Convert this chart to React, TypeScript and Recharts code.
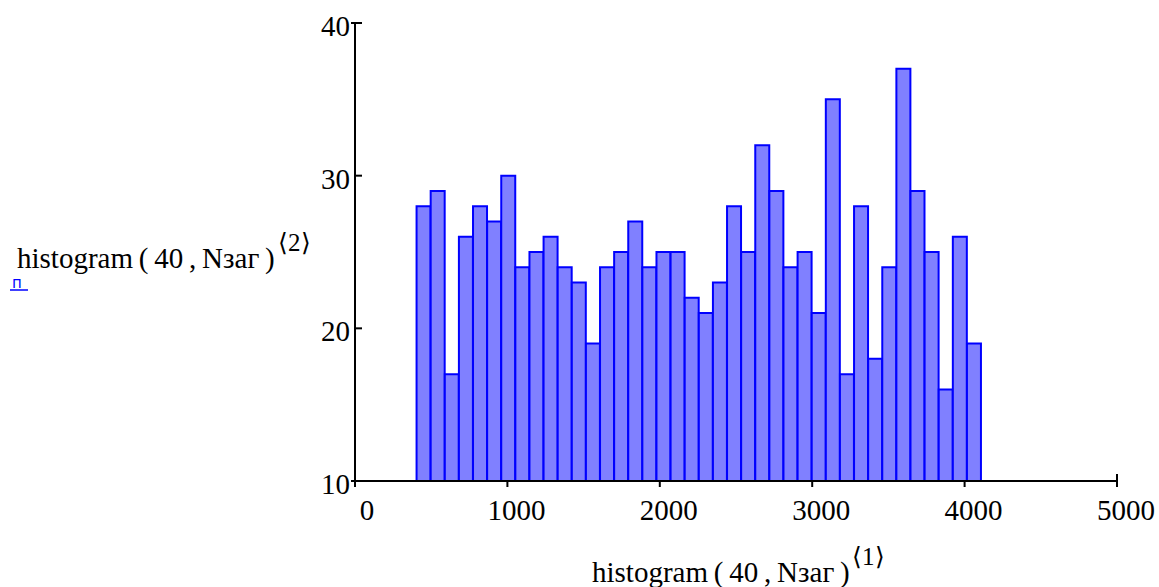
import React from 'react';
import { BarChart, Bar, XAxis, YAxis } from 'recharts';

// Bin midpoints of histogram(40, Nзаг) — column ⟨1⟩
const binCenters = [
  450.3, 542.9, 635.5, 728.1, 820.7, 913.3, 1005.9, 1098.5, 1191.1, 1283.7,
  1376.3, 1468.9, 1561.5, 1654.1, 1746.7, 1839.3, 1931.9, 2024.5, 2117.1, 2209.7,
  2302.3, 2394.9, 2487.5, 2580.1, 2672.7, 2765.3, 2857.9, 2950.5, 3043.1, 3135.7,
  3228.3, 3320.9, 3413.5, 3506.1, 3598.7, 3691.3, 3783.9, 3876.5, 3969.1, 4061.7,
];
// Counts — column ⟨2⟩
const counts = [
  28, 29, 17, 26, 28, 27, 30, 24, 25, 26,
  24, 23, 19, 24, 25, 27, 24, 25, 25, 22,
  21, 23, 28, 25, 32, 29, 24, 25, 21, 35,
  17, 28, 18, 24, 37, 29, 25, 16, 26, 19,
];
const xTicks = [0, 1000, 2000, 3000, 4000, 5000];
const yTicks = [10, 20, 30, 40];
const axisLabelMain = 'histogram\u2009(\u200940\u2009,\u2009Nзаг\u2009)';
const xLabelSup = '⟨1⟩';
const yLabelSup = '⟨2⟩';
const placeholder = 'п';

const data = binCenters.map((x, i) => ({ x, count: counts[i] }));

const FONT = '"Liberation Serif", "Times New Roman", serif';
const W = 1159;
const H = 587;
const Y_AXIS_W = 60;
const X_AXIS_H = 30;

const XTick = (props: any) => {
  const { x, y, payload } = props;
  const v = payload.value;
  const isEnd = v === 5000;
  const dx = v === 0 ? 12 : 9;
  return (
    <g>
      <line x1={x} x2={x} y1={isEnd ? y - 7 : y} y2={y + 6} stroke="#000" strokeWidth={2} />
      <text x={x + dx} y={y + 39} textAnchor="middle" fontFamily={FONT} fontSize={29} fill="#000">
        {v}
      </text>
    </g>
  );
};

const YTick = (props: any) => {
  const { x, y, payload } = props;
  const v = payload.value;
  const isEnd = v === 40 || v === 10;
  return (
    <g>
      <line x1={isEnd ? x - 4 : x} x2={x + 7} y1={y} y2={y} stroke="#000" strokeWidth={2} />
      <text x={x - 5} y={y + 13} textAnchor="end" fontFamily={FONT} fontSize={29} fill="#000">
        {v}
      </text>
    </g>
  );
};

export default function App() {
  return (
    <div style={{ position: 'absolute', left: 0, top: 0, width: W, height: H, background: '#fff' }}>
      <BarChart
        width={W}
        height={H}
        data={data}
        margin={{ top: 23, left: 355 - Y_AXIS_W, right: W - 1117, bottom: H - 481 - X_AXIS_H }}
        barCategoryGap={0}
        barGap={0}
      >
        <XAxis
          dataKey="x"
          type="number"
          domain={[0, 5000]}
          ticks={xTicks}
          interval={0}
          height={X_AXIS_H}
          tickSize={0}
          tickMargin={0}
          tickLine={false}
          tick={<XTick />}
          axisLine={{ stroke: '#000', strokeWidth: 2 }}
          allowDataOverflow
        />
        <YAxis
          type="number"
          domain={[10, 40]}
          ticks={yTicks}
          interval={0}
          width={Y_AXIS_W}
          tickSize={0}
          tickMargin={0}
          tickLine={false}
          tick={<YTick />}
          axisLine={{ stroke: '#000', strokeWidth: 2 }}
          allowDataOverflow
        />
        <Bar
          dataKey="count"
          fill="#8080ff"
          stroke="#0000ff"
          strokeWidth={2}
          isAnimationActive={false}
        />
      </BarChart>
      <svg
        width={W}
        height={H}
        style={{ position: 'absolute', left: 0, top: 0, pointerEvents: 'none' }}
      >
        <text x={17} y={268} fontFamily={FONT} fontSize={29} fill="#000">
          {axisLabelMain}
        </text>
        <text x={278} y={251} fontFamily={FONT} fontSize={25} fill="#000">
          {yLabelSup}
        </text>
        <text x={12} y={288} fontFamily='"DejaVu Sans", sans-serif' fontSize={15} fill="#0000ff">
          {placeholder}
        </text>
        <line x1={10} x2={28} y1={290} y2={290} stroke="#0000ff" strokeWidth={1.5} />
        <text x={592} y={582} fontFamily={FONT} fontSize={29} fill="#000">
          {axisLabelMain}
        </text>
        <text x={852} y={565} fontFamily={FONT} fontSize={25} fill="#000">
          {xLabelSup}
        </text>
      </svg>
    </div>
  );
}
